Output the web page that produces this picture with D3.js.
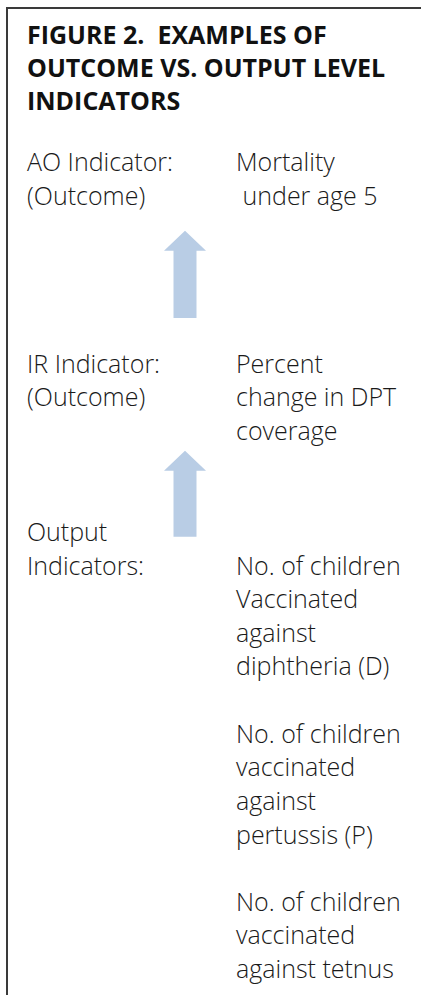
<!DOCTYPE html>
<html>
<head>
<meta charset="utf-8">
<script src="https://cdn.jsdelivr.net/npm/d3@7"></script>
<style>
  body { margin: 0; background: #fff; }
  text { white-space: pre; }
</style>
</head>
<body>
<svg width="421" height="995"></svg>
<script>
const titleLines = ["FIGURE 2.  EXAMPLES OF", "OUTCOME VS. OUTPUT LEVEL", "INDICATORS"];

// left column: indicator level labels, and the text row where each starts
const levelLabels = [["AO Indicator:", "(Outcome)"], ["IR Indicator:", "(Outcome)"], ["Output", "Indicators:"]];
const levelRows = [0, 6, 11];

// right column: indicator examples
const indicatorText = [
  ["Mortality", " under age 5"],
  ["Percent", "change in DPT", "coverage"],
  ["No. of children", "Vaccinated", "against", "diphtheria (D)"],
  ["No. of children", "vaccinated", "against", "pertussis (P)"],
  ["No. of children", "vaccinated", "against tetnus"]
];
const indicatorRows = [0, 6, 12, 17, 22];

// arrows, in text-row units (tip, tail)
const arrowTips = [1.78, 8.32];
const arrowTails = [4.37, 10.88];

const svg = d3.select("svg");

const y = d3.scaleLinear().domain([0, 24]).range([171, 978]);
const x = d3.scaleOrdinal().domain(["label", "value"]).range([27, 236]);
const font = "'Open Sans', 'Noto Sans', sans-serif";

// frame: top and left rules
svg.append("line").attr("x1", 6).attr("x2", 421).attr("y1", 8).attr("y2", 8)
  .attr("stroke", "#3a3a3a").attr("stroke-width", 2);
svg.append("line").attr("x1", 7).attr("x2", 7).attr("y1", 7).attr("y2", 995)
  .attr("stroke", "#3a3a3a").attr("stroke-width", 2);

svg.selectAll(".title")
  .data(titleLines)
  .enter().append("text")
  .attr("class", "title")
  .attr("x", 27)
  .attr("y", (d, i) => 44 + i * 33)
  .style("font-family", font)
  .style("font-weight", "bold")
  .style("font-size", "25px")
  .style("fill", "#111")
  .text(d => d);

const lines = [];
levelLabels.forEach((block, b) => block.forEach((t, i) => lines.push({col: "label", row: levelRows[b] + i, t: t})));
indicatorText.forEach((block, b) => block.forEach((t, i) => lines.push({col: "value", row: indicatorRows[b] + i, t: t})));

svg.selectAll(".line")
  .data(lines)
  .enter().append("text")
  .attr("class", "line")
  .attr("x", d => x(d.col))
  .attr("y", d => y(d.row))
  .style("font-family", font)
  .style("font-weight", 300)
  .style("font-size", "25px")
  .style("fill", "#1a1a1a")
  .text(d => d.t);

// block arrows
const cx = 185, headW = 21, shaftW = 11.5, headH = 20;
const arrowPath = (tip, tail) => {
  const t = y(tip), b = y(tail);
  return d3.line()([
    [cx, t], [cx + headW, t + headH], [cx + shaftW, t + headH], [cx + shaftW, b],
    [cx - shaftW, b], [cx - shaftW, t + headH], [cx - headW, t + headH]
  ]) + "Z";
};

svg.selectAll(".arrow")
  .data(arrowTips)
  .enter().append("path")
  .attr("class", "arrow")
  .attr("d", (d, i) => arrowPath(d, arrowTails[i]))
  .style("fill", "#b9cde5");
</script>
</body>
</html>
